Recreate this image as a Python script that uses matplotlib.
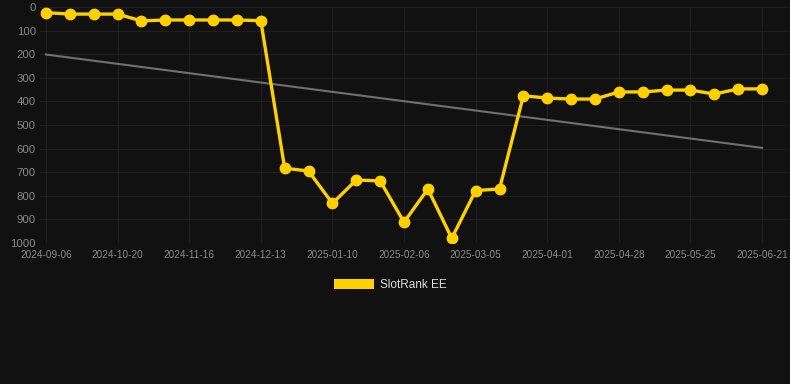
import numpy as np
import matplotlib.pyplot as plt
from matplotlib.patches import Patch

plt.rcParams['font.family'] = ['Liberation Sans', 'DejaVu Sans']

# rank values, one per sample (lower = better)
ranks = [24, 30, 30, 30, 59, 55, 55, 55, 55, 58,
         683, 695, 832, 733, 737, 912, 771, 980, 778, 771,
         376, 386, 390, 390, 360, 360, 352, 352, 369, 347, 347]
tick_labels = ['2024-09-06', '2024-10-20', '2024-11-16', '2024-12-13',
               '2025-01-10', '2025-02-06', '2025-03-05', '2025-04-01',
               '2025-04-28', '2025-05-25', '2025-06-21']
tick_idx = [0, 3, 6, 9, 12, 15, 18, 21, 24, 27, 30]
series_name = 'SlotRank EE'

bg = '#111111'
yellow = '#ffd000'

fig = plt.figure(figsize=(7.9, 3.84), dpi=100, facecolor=bg)
ax = fig.add_axes([40 / 790, 1 - 243 / 384, 750 / 790, 236 / 384])
ax.set_facecolor(bg)

x = np.arange(len(ranks))
# trend line (linear fit)
k, b = np.polyfit(x, ranks, 1)
ax.plot([x[0], x[-1]], [k * x[0] + b, k * x[-1] + b], color='#707070', lw=1.5, zorder=2)

ax.plot(x, ranks, color=yellow, lw=2.4, marker='o', markersize=7.5, zorder=3)

ax.set_xlim(-0.25, 31.17)
ax.set_ylim(1000, 0)
ax.set_yticks(range(0, 1001, 100))
ax.set_xticks(tick_idx)
ax.set_xticklabels(tick_labels)

ax.grid(True, color='#1f1f1f', lw=0.8)
ax.set_axisbelow(True)
for s in ax.spines.values():
    s.set_visible(False)
ax.tick_params(axis='y', length=0, pad=3, labelsize=8.2, labelcolor='#8a8a8a')
ax.tick_params(axis='x', length=0, pad=5, labelsize=7.2, labelcolor='#8a8a8a')

fig.legend(handles=[Patch(facecolor=yellow, edgecolor='none', label=series_name)],
           loc='center', bbox_to_anchor=(390 / 790, 1 - 285 / 384),
           frameon=False, fontsize=8.5, labelcolor='#dddddd',
           handlelength=3.4, handleheight=1.0, handletextpad=0.5)

fig.savefig('out.png', dpi=100, facecolor=bg)
